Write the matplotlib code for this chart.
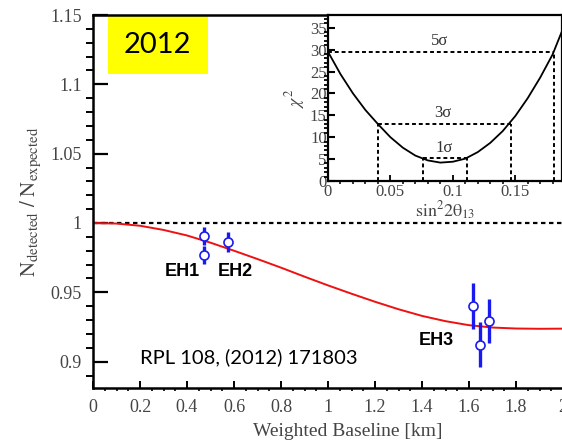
import matplotlib
matplotlib.use("Agg")
import matplotlib.pyplot as plt
from matplotlib.ticker import MultipleLocator
from matplotlib.patches import Rectangle

plt.rcParams['font.family'] = 'Liberation Serif'
plt.rcParams['mathtext.fontset'] = 'stix'

# oscillation curve
baseline = [0, 0.1, 0.2, 0.3, 0.4, 0.5, 0.6, 0.7, 0.8, 0.9, 1.0,
            1.1, 1.2, 1.3, 1.4, 1.5, 1.6, 1.7, 1.8, 1.9, 2.0]
ratio_fit = [1.0, 0.9996, 0.998, 0.995, 0.991, 0.9858, 0.980, 0.974, 0.9678,
             0.9613, 0.955, 0.949, 0.9432, 0.9378, 0.933, 0.9292, 0.9263,
             0.9246, 0.9239, 0.9237, 0.9238]

# detector points
det_x = [0.472, 0.472, 0.576, 1.618, 1.648, 1.684]
det_y = [0.9909, 0.977, 0.9865, 0.9402, 0.9123, 0.9294]
det_err = [0.0065, 0.0065, 0.0072, 0.0164, 0.016, 0.016]
hall_names = ["EH1", "EH2", "EH3"]
hall_x = [0.381, 0.607, 1.462]
hall_y = [0.965, 0.965, 0.9152]

# chi2 inset
s22 = [0, 0.01, 0.02, 0.03, 0.04, 0.05, 0.06, 0.07, 0.08, 0.09, 0.10,
       0.11, 0.12, 0.13, 0.14, 0.15, 0.16, 0.17, 0.18, 0.19]
chi2 = [29.5, 24.4, 20.0, 16.2, 13.0, 10.0, 7.6, 5.8, 4.7, 4.2, 4.4,
        5.1, 6.6, 8.7, 11.4, 14.8, 18.9, 23.6, 28.9, 36.0]
sig_names = ["1σ", "3σ", "5σ"]
sig_level = [5.2, 13.1, 29.5]
sig_lo = [0.0764, 0.0397, 0.0]
sig_hi = [0.1117, 0.1466, 0.181]

fig = plt.figure(figsize=(5.62, 4.45), dpi=100)
ax = fig.add_axes([93/562, 57/445, 470/562, 373/445])

ax.axhline(1.0, color='k', lw=1.6, ls=(0, (2, 1.6)))
ax.plot(baseline, ratio_fit, color='#ee1111', lw=1.4)
ax.errorbar(det_x, det_y, yerr=det_err, fmt='o', color='#1a1aee', ecolor='#1a1aee',
            elinewidth=2.4, capsize=0, ms=6.5, mfc='white', mec='#1a1aee', mew=1.2)
for name, x, y in zip(hall_names, hall_x, hall_y):
    ax.text(x, y, name, family='Liberation Sans', weight='bold', fontsize=13,
            ha='center', va='center')

ax.text(0.2, 0.903, "RPL 108, (2012) 171803", family='Lato', fontsize=14.5,
        ha='left', va='center')
ax.add_patch(Rectangle((0.0319, 0.842), 0.2128, 0.155, transform=ax.transAxes,
                       fc='#ffff00', ec='none', zorder=2))
ax.text(0.137, 0.919, "2012", family='Lato', fontsize=21, ha='center', va='center',
        transform=ax.transAxes, zorder=4)

ax.set_xlim(0, 2)
ax.set_ylim(0.881, 1.15)
ax.xaxis.set_minor_locator(MultipleLocator(0.05))
ax.yaxis.set_minor_locator(MultipleLocator(0.01))
ax.set_xticks([0, 0.2, 0.4, 0.6, 0.8, 1, 1.2, 1.4, 1.6, 1.8, 2])
ax.set_xticklabels(['0', '0.2', '0.4', '0.6', '0.8', '1', '1.2', '1.4', '1.6', '1.8', '2'])
ax.set_yticks([0.9, 0.95, 1.0, 1.05, 1.1, 1.15])
ax.set_yticklabels(['0.9', '0.95', '1', '1.05', '1.1', '1.15'])
ax.tick_params(axis='both', direction='in', labelsize=13, colors='k', labelcolor='#444444')
ax.tick_params(axis='y', which='major', length=11, width=1.6, pad=8)
ax.tick_params(axis='y', which='minor', length=5, width=1.4)
ax.tick_params(axis='x', which='major', length=5, width=1.4, pad=8)
ax.tick_params(axis='x', which='minor', length=2.5, width=1.2)
for sp in ax.spines.values():
    sp.set_linewidth(1.8)
ax.set_xlabel("Weighted Baseline [km]", fontsize=14, color='#444444')
ax.xaxis.set_label_coords(0.5426, -0.095)
ax.set_ylabel(r"$\mathrm{N_{detected}\ /\ N_{expected}}$", fontsize=15, color='#444444',
              labelpad=5)

# inset
ins = fig.add_axes([328/562, 264/445, 234/562, 166/445])
ins.plot(s22, chi2, color='k', lw=1.3)
for name, lev, lo, hi in zip(sig_names, sig_level, sig_lo, sig_hi):
    ins.plot([lo, hi], [lev, lev], color='k', lw=1.4, ls=(0, (2, 1.5)))
    ins.plot([lo, lo], [0, lev], color='k', lw=1.4, ls=(0, (2, 1.5)))
    ins.plot([hi, hi], [0, lev], color='k', lw=1.4, ls=(0, (2, 1.5)))
    ins.text((lo + hi) / 2 - 0.001, lev + 0.6, name, fontsize=12, ha='center',
             va='bottom', color='#333333')
ins.set_xlim(0, 0.1875)
ins.set_ylim(0, 37.9)
ins.xaxis.set_minor_locator(MultipleLocator(0.01))
ins.yaxis.set_major_locator(MultipleLocator(5))
ins.yaxis.set_minor_locator(MultipleLocator(1))
ins.set_xticks([0, 0.05, 0.1, 0.15])
ins.set_xticklabels(['0', '0.05', '0.1', '0.15'])
ins.tick_params(axis='both', direction='in', labelsize=12, labelcolor='#444444')
ins.tick_params(axis='y', which='major', length=5, width=1.5, pad=1)
ins.tick_params(axis='y', which='minor', length=3, width=1.3)
ins.tick_params(axis='x', which='major', length=4, width=1.3, pad=2)
ins.tick_params(axis='x', which='minor', length=2.5, width=1.1)
for sp in ins.spines.values():
    sp.set_linewidth(1.6)
ins.set_xlabel(r"$\mathrm{sin^{2}2\theta_{13}}$", fontsize=13, color='#444444', labelpad=0)
ins.set_ylabel(r"$\chi^{2}$", fontsize=13, color='#444444', labelpad=2)

fig.savefig("out.png", dpi=100)
